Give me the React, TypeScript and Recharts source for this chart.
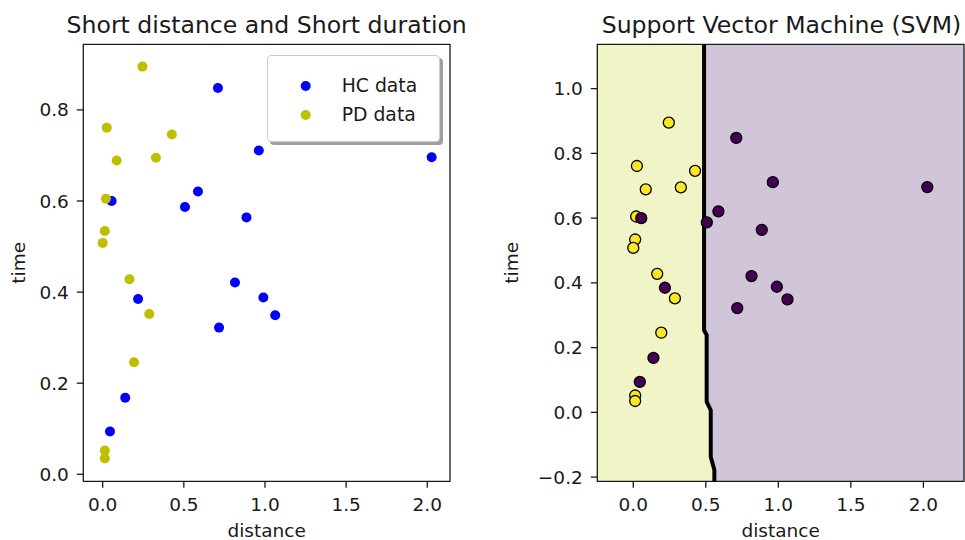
import React from 'react';
import { ScatterChart, Scatter, XAxis, YAxis, ReferenceArea, Legend } from 'recharts';

// ---------- data ----------
const hcDistance = [0.710, 0.962, 2.027, 0.055, 0.587, 0.507, 0.886, 0.815, 0.218, 0.990, 1.063, 0.717, 0.139, 0.045];
const hcTime = [0.848, 0.711, 0.696, 0.600, 0.621, 0.587, 0.564, 0.421, 0.385, 0.388, 0.349, 0.322, 0.168, 0.094];
const pdDistance = [0.245, 0.025, 0.426, 0.086, 0.328, 0.020, 0.013, 0.000, 0.165, 0.287, 0.193, 0.013, 0.013];
const pdTime = [0.895, 0.761, 0.746, 0.689, 0.695, 0.605, 0.534, 0.508, 0.428, 0.352, 0.246, 0.052, 0.035];

// SVM decision boundary (step contour) and regions
const boundaryDistance = [0.488, 0.488, 0.506, 0.506, 0.534, 0.534, 0.559, 0.559];
const boundaryTime = [1.137, 0.254, 0.239, 0.033, 0.007, -0.137, -0.178, -0.213];
const regionDistance = [0.488, 0.506, 0.534, 0.559];
const regionTop = [1.137, 0.246, 0.020, -0.158];

const leftXDomain = [-0.1195, 2.14];
const leftYDomain = [-0.0154, 0.944];
const rightXDomain = [-0.248, 2.28];
const rightYDomain = [-0.213, 1.137];

const xTicks = [0, 0.5, 1.0, 1.5, 2.0];
const leftYTicks = [0, 0.2, 0.4, 0.6, 0.8];
const rightYTicks = [-0.2, 0, 0.2, 0.4, 0.6, 0.8, 1.0];

const titles = ['Short distance and Short duration', 'Support Vector Machine (SVM)'];
const seriesNames = ['HC data', 'PD data'];

// ---------- style ----------
const FONT = '"DejaVu Sans", "Liberation Sans", sans-serif';
const TEXT = '#1a1a1a';
const SPINE = '#1a1a1a';
const HC_BLUE = '#0000ff';
const PD_OLIVE = '#bfbf00';
const VIR_YELLOW = '#fde725';
const VIR_PURPLE = '#440154';
const FILL_YELLOW = '#f1f4c6';
const FILL_PURPLE = '#d1c5d9';

const zip = (xs: number[], ys: number[]) => xs.map((x, i) => ({ x, y: ys[i] }));
const hcData = zip(hcDistance, hcTime);
const pdData = zip(pdDistance, pdTime);
const boundaryData = zip(boundaryDistance, boundaryTime);

const fmt = (v: number) => v.toFixed(1).replace('-', '\u2212');
const tickStyle = { fontSize: 18.5, fill: TEXT, fontFamily: FONT };

const xLabel = (props: any) => {
  const vb = props.viewBox || {};
  const cx = (vb.x ?? 0) + (vb.width ?? 0) / 2;
  const y = (vb.y ?? 481.3) + (vb.height ?? 58.7) - 3;
  return (
    <text x={cx} y={y} textAnchor="middle" fontSize={18.5} fill={TEXT} fontFamily={FONT}>
      distance
    </text>
  );
};

const makeYLabel = (bx: number) => (props: any) => {
  const vb = props.viewBox || {};
  const cy = (vb.y ?? 44.3) + (vb.height ?? 437) / 2;
  return (
    <text x={bx} y={cy} transform={`rotate(-90 ${bx} ${cy})`} textAnchor="middle" fontSize={18.5} fill={TEXT} fontFamily={FONT}>
      time
    </text>
  );
};

const dot = (r: number, fill: string, stroke?: string) => (p: any) => (
  <circle cx={p.cx} cy={p.cy} r={r} fill={fill} stroke={stroke || 'none'} strokeWidth={stroke ? 1.3 : 0} />
);

const LegendBox = (props: any) => {
  const payload = (props.payload || []).filter((e: any) => e.type !== 'none');
  return (
    <div
      style={{
        width: 172.7,
        height: 86.7,
        boxSizing: 'border-box',
        border: '1px solid #cccccc',
        borderRadius: 4,
        background: '#ffffff',
        boxShadow: '3px 3px 0 #a0a0a0',
        position: 'relative',
        fontFamily: FONT,
      }}
    >
      {payload.map((e: any, i: number) => (
        <div key={i} style={{ position: 'absolute', left: 0, top: 30 + i * 29.3 - 13, height: 26, display: 'flex', alignItems: 'center' }}>
          <svg width={73.4} height={26} style={{ display: 'block' }}>
            <circle cx={37.7} cy={13} r={5} fill={e.color} />
          </svg>
          <span style={{ fontSize: 18.8, color: TEXT, lineHeight: '26px', whiteSpace: 'nowrap' }}>{e.value}</span>
        </div>
      ))}
    </div>
  );
};

const titleStyle = (cx: number): React.CSSProperties => ({
  position: 'absolute',
  left: cx - 250,
  width: 500,
  top: 12.5,
  textAlign: 'center',
  fontSize: 23.6,
  lineHeight: '24px',
  color: TEXT,
  fontFamily: FONT,
  whiteSpace: 'nowrap',
});

export default function App() {
  return (
    <div style={{ position: 'absolute', left: 0, top: 0, width: 965, height: 540, background: '#ffffff', fontFamily: FONT, overflow: 'hidden' }}>
      <div style={titleStyle(266.7)}>{titles[0]}</div>
      <div style={titleStyle(781.5)}>{titles[1]}</div>

      {/* left subplot */}
      <div style={{ position: 'absolute', left: 0, top: 0 }}>
        <ScatterChart width={480} height={540} margin={{ top: 44.3, right: 30, bottom: 0, left: 0 }}>
          <XAxis
            type="number"
            dataKey="x"
            domain={leftXDomain}
            allowDataOverflow
            ticks={xTicks}
            tickFormatter={fmt}
            height={58.7}
            axisLine={false}
            tickLine={{ stroke: SPINE, strokeWidth: 1.3 }}
            tickSize={6.5}
            tickMargin={10}
            tick={tickStyle}
            interval={0}
            label={{ content: xLabel }}
          />
          <YAxis
            type="number"
            dataKey="y"
            domain={leftYDomain}
            allowDataOverflow
            ticks={leftYTicks}
            tickFormatter={fmt}
            width={83.3}
            axisLine={false}
            tickLine={{ stroke: SPINE, strokeWidth: 1.3 }}
            tickSize={6.5}
            tickMargin={8}
            tick={tickStyle}
            interval={0}
            label={{ content: makeYLabel(25.3) }}
          />
          <ReferenceArea
            x1={leftXDomain[0]}
            x2={leftXDomain[1]}
            y1={leftYDomain[0]}
            y2={leftYDomain[1]}
            fill="none"
            stroke={SPINE}
            strokeWidth={1.3}
          />
          <Scatter name={seriesNames[0]} data={hcData} fill={HC_BLUE} shape={dot(5, HC_BLUE)} isAnimationActive={false} />
          <Scatter name={seriesNames[1]} data={pdData} fill={PD_OLIVE} shape={dot(5, PD_OLIVE)} isAnimationActive={false} />
          <Legend
            layout="vertical"
            align="center"
            verticalAlign="middle"
            wrapperStyle={{ left: 267.3, top: 55, width: 'auto', height: 'auto' }}
            content={LegendBox}
          />
        </ScatterChart>
      </div>

      {/* right subplot */}
      <div style={{ position: 'absolute', left: 480, top: 0 }}>
        <ScatterChart width={485} height={540} margin={{ top: 44.3, right: 1, bottom: 0, left: 0 }}>
          <XAxis
            type="number"
            dataKey="x"
            domain={rightXDomain}
            allowDataOverflow
            ticks={xTicks}
            tickFormatter={fmt}
            height={58.7}
            axisLine={false}
            tickLine={{ stroke: SPINE, strokeWidth: 1.3 }}
            tickSize={6.5}
            tickMargin={10}
            tick={tickStyle}
            interval={0}
            label={{ content: xLabel }}
          />
          <YAxis
            type="number"
            dataKey="y"
            domain={rightYDomain}
            allowDataOverflow
            ticks={rightYTicks}
            tickFormatter={fmt}
            width={117.3}
            axisLine={false}
            tickLine={{ stroke: SPINE, strokeWidth: 1.3 }}
            tickSize={6.5}
            tickMargin={8}
            tick={tickStyle}
            interval={0}
            label={{ content: makeYLabel(38.3) }}
          />
          <ReferenceArea
            x1={rightXDomain[0]}
            x2={rightXDomain[1]}
            y1={rightYDomain[0]}
            y2={rightYDomain[1]}
            fill={FILL_PURPLE}
            fillOpacity={1}
            stroke="none"
          />
          {regionDistance.map((bx, i) => (
            <ReferenceArea
              key={i}
              x1={rightXDomain[0]}
              x2={bx}
              y1={rightYDomain[0]}
              y2={regionTop[i]}
              fill={FILL_YELLOW}
              fillOpacity={1}
              stroke="none"
            />
          ))}
          <ReferenceArea
            x1={rightXDomain[0]}
            x2={rightXDomain[1]}
            y1={rightYDomain[0]}
            y2={rightYDomain[1]}
            fill="none"
            stroke={SPINE}
            strokeWidth={1.3}
          />
          <Scatter
            data={boundaryData}
            fill="#000000"
            line={{ stroke: '#000000', strokeWidth: 4 }}
            shape={() => <g />}
            legendType="none"
            isAnimationActive={false}
          />
          <Scatter data={pdData} fill={VIR_YELLOW} shape={dot(5.5, VIR_YELLOW, '#000000')} isAnimationActive={false} />
          <Scatter data={hcData} fill={VIR_PURPLE} shape={dot(5.5, VIR_PURPLE, '#000000')} isAnimationActive={false} />
        </ScatterChart>
      </div>
    </div>
  );
}
